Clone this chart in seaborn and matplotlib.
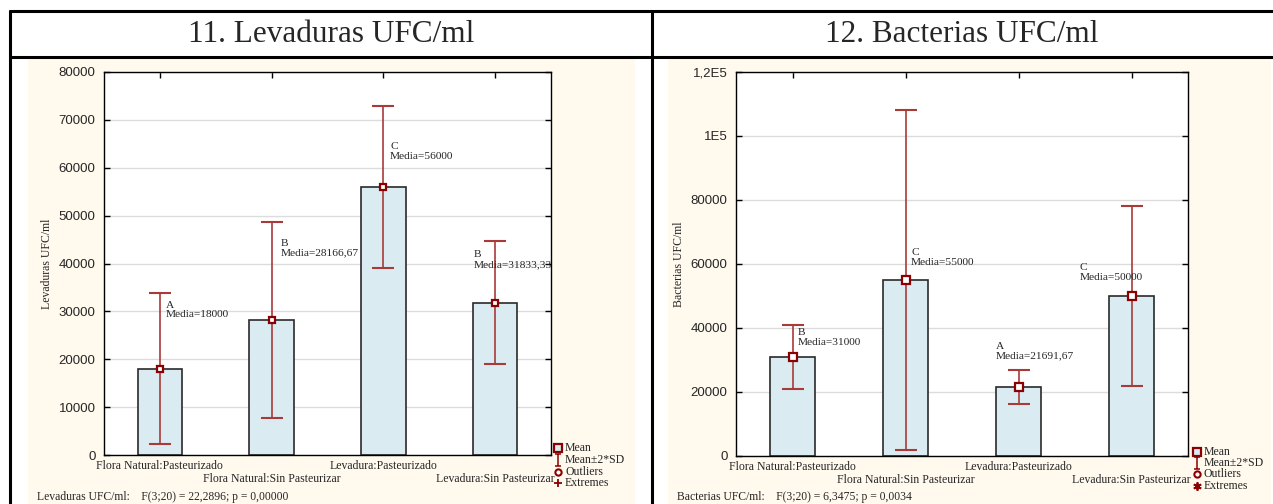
import numpy as np
import pandas as pd
import matplotlib
matplotlib.use("Agg")
import matplotlib.pyplot as plt
import seaborn as sns
from matplotlib.lines import Line2D
from matplotlib.patches import Rectangle
from matplotlib.path import Path

# ---------------- data ----------------
categories = ["Flora Natural:Pasteurizado", "Flora Natural:Sin Pasteurizar",
              "Levadura:Pasteurizado", "Levadura:Sin Pasteurizar"]

lev_means = [18000, 28166.67, 56000, 31833.33]
lev_sd = [7900, 10250, 8450, 6450]
lev_letters = ["A", "B", "C", "B"]
lev_label_y = [30300, 43200, 63400, 40800]
lev_yticks = [0, 10000, 20000, 30000, 40000, 50000, 60000, 70000, 80000]
lev_yticklabels = ["0", "10000", "20000", "30000", "40000", "50000", "60000", "70000", "80000"]

bac_means = [31000, 55000, 21691.67, 50000]
bac_sd = [5000, 26500, 2650, 14000]
bac_letters = ["B", "C", "A", "C"]
bac_label_y = [37000, 62000, 32800, 57300]
bac_yticks = [0, 20000, 40000, 60000, 80000, 100000, 120000]
bac_yticklabels = ["0", "20000", "40000", "60000", "80000", "1E5", "1,2E5"]

titles = ["11. Levaduras UFC/ml", "12. Bacterias UFC/ml"]
ylabels = ["Levaduras UFC/ml", "Bacterias UFC/ml"]
footers = ["Levaduras UFC/ml:    F(3;20) = 22,2896; p = 0,00000",
           "Bacterias UFC/ml:    F(3;20) = 6,3475; p = 0,0034"]
legend_labels = ["Mean", "Mean\u00b12*SD", "Outliers", "Extremes"]

# horizontal offsets of the annotation blocks (category units)
lev_label_dx = [0.05, 0.08, 0.06, -0.19]
bac_label_dx = [0.05, 0.05, -0.20, -0.46]

# ---------------- style ----------------
sns.set_theme(style="white")
plt.rcParams["font.family"] = ["Liberation Serif", "DejaVu Serif"]
SERIF = ["Liberation Serif", "DejaVu Serif"]
SANS = ["Liberation Sans", "DejaVu Sans"]

W, H = 1273, 504
fig = plt.figure(figsize=(W / 100, H / 100), dpi=100)
fig.patch.set_facecolor("white")

# overlay axes in pixel coordinates for the table frame
ov = fig.add_axes([0, 0, 1, 1], zorder=-5)
ov.set_xlim(0, W)
ov.set_ylim(H, 0)
ov.axis("off")
cream = "#FFF9EE"
ov.add_patch(Rectangle((28, 58), 607, 446, facecolor=cream, edgecolor="none"))
ov.add_patch(Rectangle((668, 58), 603, 446, facecolor=cream, edgecolor="none"))
for (x0, y0, x1, y1) in [(9, 11, W, 11), (9, 57, W, 57), (10, 10, 10, H), (652, 10, 652, H)]:
    ov.add_line(Line2D([x0, x1], [y0, y1], color="black", lw=2.2, solid_capstyle="butt"))
ov.text(331, 35, titles[0], fontsize=22.5, family=SERIF, ha="center", va="center")
ov.text(962, 35, titles[1], fontsize=22.5, family=SERIF, ha="center", va="center")
ov.text(37, 497, footers[0], fontsize=8.4, family=SERIF, ha="left", va="center")
ov.text(677, 497, footers[1], fontsize=8.4, family=SERIF, ha="left", va="center")

bar_color = "#DAECF2"
err_color = "#A83A3A"
mark_color = "#8B0000"


def fmt_media(v):
    if abs(v - round(v)) < 1e-6:
        return str(int(round(v)))
    return f"{v:.2f}".replace(".", ",")


def panel(rect, hpx, means, sd, letters, label_y, label_dx, yticks, yticklabels, ylabel, ms):
    ax = fig.add_axes(rect)
    ax.set_facecolor("white")
    df = pd.DataFrame({"Tratamiento": categories, "Media": means})
    sns.barplot(data=df, x="Tratamiento", y="Media", ax=ax, color=bar_color,
                saturation=1, width=0.4, edgecolor="#2A2A2A", linewidth=1.2,
                errorbar=None, zorder=2)
    xs = np.arange(len(categories))
    two_sd = 2 * np.asarray(sd)
    ax.errorbar(xs, means, yerr=two_sd, fmt="none", ecolor=err_color,
                elinewidth=1.2, capsize=8, capthick=1.5, zorder=3)
    ax.plot(xs, means, "s", ms=ms, mfc="white", mec=mark_color, mew=1.6, zorder=4)
    for x, m, L, ly, dx in zip(xs, means, letters, label_y, label_dx):
        ax.text(x + dx, ly, f"{L}\nMedia={fmt_media(m)}", fontsize=8.2,
                family=SERIF, ha="left", va="center", linespacing=1.1, zorder=5)
    ax.set_xlim(-0.5, 3.5)
    ax.set_ylim(yticks[0], yticks[-1])
    ax.set_yticks(yticks)
    ax.set_yticklabels(yticklabels, family=SANS, fontsize=9.5)
    ax.set_xticks(xs)
    ax.set_xticklabels([])
    tr = ax.get_xaxis_transform()
    for i, c in enumerate(categories):
        yoff = -5 / hpx if i % 2 == 0 else -18 / hpx
        ax.text(xs[i], yoff, c, transform=tr, family=SERIF, fontsize=8.5,
                ha="center", va="top", clip_on=False)
    ax.set_xlabel("")
    ax.set_ylabel(ylabel, family=SERIF, fontsize=8.5, labelpad=4)
    ax.grid(axis="y", color="#DCDCDC", lw=1, zorder=0)
    ax.grid(axis="x", visible=False)
    ax.set_axisbelow(True)
    ax.tick_params(direction="in", length=4, width=1, top=True, right=True,
                   left=True, bottom=True, pad=6, color="black")
    for s in ax.spines.values():
        s.set_color("black")
        s.set_linewidth(1)
    return ax


ax1 = panel([104 / W, (H - 455) / H, 447 / W, 383 / H], 383, lev_means, lev_sd, lev_letters,
            lev_label_y, lev_label_dx, lev_yticks, lev_yticklabels, ylabels[0], 4.5)
ax2 = panel([736 / W, (H - 456) / H, 452 / W, 384 / H], 384, bac_means, bac_sd, bac_letters,
            bac_label_y, bac_label_dx, bac_yticks, bac_yticklabels, ylabels[1], 6)

# I-shaped marker (error bar symbol)
ibar = Path([(-0.6, 1), (0.6, 1), (0, 1), (0, -1), (-0.6, -1), (0.6, -1)],
            [Path.MOVETO, Path.LINETO, Path.MOVETO, Path.LINETO, Path.MOVETO, Path.LINETO])


def legend(x, y0, dy, extreme_marker):
    ys = [y0 + i * dy for i in range(4)]
    ov.plot([x], [ys[0]], "s", ms=6, mfc="#DAECF2", mec=mark_color, mew=1.6)
    ov.plot([x], [ys[1]], marker=ibar, ms=8, mfc="none", mec=mark_color, mew=1.1, ls="none")
    ov.plot([x], [ys[2]], "o", ms=4.5, mfc="white", mec=mark_color, mew=1.5)
    ov.plot([x], [ys[3]], marker=extreme_marker, ms=6, color=mark_color, mew=1.3, ls="none")
    for yy, lab in zip(ys, legend_labels):
        ov.text(x + 7, yy, lab, fontsize=8.5, family=SERIF, ha="left", va="center")


legend(558, 448, 11.8, "+")
legend(1197, 452, 11.2, (6, 2, 0))

fig.savefig("out.png", dpi=100, facecolor="white")
